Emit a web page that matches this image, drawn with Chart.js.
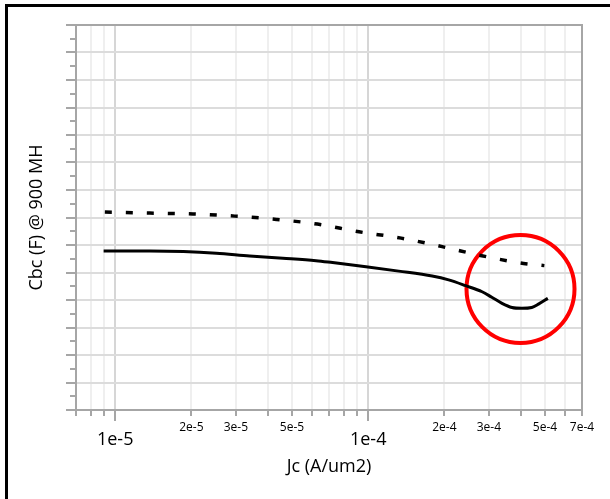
<!DOCTYPE html>
<html>
<head>
<meta charset="utf-8">
<script src="https://cdn.jsdelivr.net/npm/chart.js@4/dist/chart.umd.min.js"></script>
<style>
    html, body { margin: 0; padding: 0; background: #fff; }
    #wrap { width: 610px; height: 499px; }
</style>
</head>
<body>
<div id="wrap"><canvas id="cbcChart" width="610" height="499"></canvas></div>
<script>
// ===== Data =====
const solidJc  = [9.0e-6, 1.37e-5, 1.86e-5, 2.51e-5, 3.40e-5, 4.60e-5, 6.22e-5, 7.23e-5, 9.8e-5, 1.32e-4, 1.79e-4, 2.08e-4, 2.43e-4, 2.82e-4, 3.08e-4, 3.38e-4, 3.70e-4, 4.05e-4, 4.43e-4, 4.71e-4, 5.13e-4];
const solidCbc = [5.78, 5.78, 5.76, 5.70, 5.60, 5.52, 5.43, 5.36, 5.21, 5.05, 4.87, 4.73, 4.52, 4.30, 4.10, 3.88, 3.73, 3.70, 3.73, 3.85, 4.06];

const dashJc  = [9.1e-6, 1.37e-5, 2.03e-5, 2.97e-5, 4.34e-5, 6.3e-5, 9.2e-5, 1.35e-4, 1.96e-4, 2.81e-4, 4.11e-4, 4.97e-4];
const dashCbc = [7.20, 7.16, 7.13, 7.05, 6.93, 6.76, 6.48, 6.25, 5.94, 5.61, 5.33, 5.25];

// red highlight circle (centre in data units)
const markJc = [4.0e-4];
const markCbc = [4.40];

// x axis ticks (log) and the ones that carry a label
const xTicks = [7e-6, 8e-6, 9e-6, 1e-5, 2e-5, 3e-5, 4e-5, 5e-5, 6e-5, 7e-5, 8e-5, 9e-5,
                1e-4, 2e-4, 3e-4, 4e-4, 5e-4, 6e-4, 7e-4];
const xLabelValues = [1e-5, 2e-5, 3e-5, 5e-5, 1e-4, 2e-4, 3e-4, 5e-4, 7e-4];
const xLabelTexts  = ['1e-5', '2e-5', '3e-5', '5e-5', '1e-4', '2e-4', '3e-4', '5e-4', '7e-4'];
const xMajorValues = [1e-5, 1e-4];

// y axis: unlabelled, 14 divisions
const yMin = 0;
const yMax = 14;

const FONT = "'Open Sans', 'DejaVu Sans', sans-serif";

function sameVal(a, b) {
    return Math.abs(a - b) / b < 1e-6;
}
function isMajorX(v) {
    return xMajorValues.some(m => sameVal(v, m));
}

// Frame, plot border and minor tick marks
const decorPlugin = {
    id: 'decor',
    beforeDraw(chart) {
        const ctx = chart.ctx;
        ctx.save();
        ctx.fillStyle = '#fff';
        ctx.fillRect(0, 0, chart.width, chart.height);
        ctx.fillStyle = '#000';
        ctx.fillRect(5, 4, chart.width - 5, 3);
        ctx.fillRect(5, 4, 3, chart.height - 4);
        ctx.restore();
    },
    afterDraw(chart) {
        const ctx = chart.ctx;
        const area = chart.chartArea;
        const x = chart.scales.x;
        const y = chart.scales.y;
        ctx.save();
        ctx.strokeStyle = '#a6a6a6';
        ctx.lineWidth = 2;
        // top and right border
        ctx.beginPath();
        ctx.moveTo(area.left, area.top);
        ctx.lineTo(area.right, area.top);
        ctx.lineTo(area.right, area.bottom);
        ctx.stroke();
        // minor ticks on y (half steps)
        ctx.beginPath();
        for (let v = yMin + 0.5; v < yMax; v += 1) {
            const py = Math.round(y.getPixelForValue(v));
            ctx.moveTo(area.left - 6, py);
            ctx.lineTo(area.left, py);
        }
        // minor ticks on x
        xTicks.forEach(v => {
            if (isMajorX(v)) return;
            const px = Math.round(x.getPixelForValue(v));
            ctx.moveTo(px, area.bottom);
            ctx.lineTo(px, area.bottom + 6);
        });
        ctx.stroke();
        ctx.restore();
    }
};

const ctx = document.getElementById('cbcChart').getContext('2d');

new Chart(ctx, {
    type: 'line',
    data: {
        datasets: [
            {
                label: 'solid',
                data: solidJc.map((v, i) => ({ x: v, y: solidCbc[i] })),
                borderColor: '#000',
                borderWidth: 3,
                pointRadius: 0,
                tension: 0.4,
                cubicInterpolationMode: 'monotone',
                fill: false
            },
            {
                label: 'dashed',
                data: dashJc.map((v, i) => ({ x: v, y: dashCbc[i] })),
                borderColor: '#000',
                borderWidth: 3.5,
                borderDash: [7, 14],
                pointRadius: 0,
                tension: 0.4,
                cubicInterpolationMode: 'monotone',
                fill: false
            },
            {
                type: 'bubble',
                label: 'mark',
                data: markJc.map((v, i) => ({ x: v, y: markCbc[i], r: 54 })),
                borderColor: '#ff0000',
                backgroundColor: 'rgba(0,0,0,0)',
                borderWidth: 4,
                hoverRadius: 0
            }
        ]
    },
    options: {
        responsive: false,
        animation: false,
        events: [],
        layout: {
            autoPadding: false,
            padding: { left: 0, top: 25, right: 28, bottom: 0 }
        },
        plugins: {
            legend: { display: false },
            tooltip: { enabled: false }
        },
        scales: {
            x: {
                type: 'logarithmic',
                min: 7e-6,
                max: 7e-4,
                afterBuildTicks: scale => {
                    scale.ticks = xTicks.map(v => ({ value: v }));
                },
                afterFit: scale => {
                    scale.height = 89;
                },
                border: { color: '#a6a6a6', width: 2 },
                grid: {
                    color: c => isMajorX(c.tick.value) ? '#d6d6d6' : '#efefef',
                    lineWidth: 2,
                    drawTicks: true,
                    tickLength: 11,
                    tickColor: c => isMajorX(c.tick.value) ? '#a6a6a6' : 'rgba(0,0,0,0)',
                    tickWidth: 2
                },
                ticks: {
                    autoSkip: false,
                    maxRotation: 0,
                    padding: 0,
                    color: '#000',
                    font: c => isMajorX(c.tick.value)
                        ? { family: FONT, size: 18, lineHeight: 38 / 18 }
                        : { family: FONT, size: 12, lineHeight: 14 / 12 },
                    callback: value => {
                        const i = xLabelValues.findIndex(m => sameVal(value, m));
                        return i >= 0 ? xLabelTexts[i] : '';
                    }
                },
                title: {
                    display: true,
                    text: 'Jc (A/um2)',
                    color: '#000',
                    font: { family: FONT, size: 18 },
                    padding: { top: 0, bottom: 21 }
                }
            },
            y: {
                type: 'linear',
                min: yMin,
                max: yMax,
                afterFit: scale => {
                    scale.width = 76;
                },
                border: { color: '#a6a6a6', width: 2 },
                grid: {
                    color: '#dcdcdc',
                    lineWidth: 2,
                    drawTicks: true,
                    tickLength: 10,
                    tickColor: '#a6a6a6',
                    tickWidth: 2
                },
                ticks: {
                    display: false,
                    stepSize: 1
                },
                title: {
                    display: true,
                    text: 'Cbc (F) @ 900 MH',
                    color: '#000',
                    font: { family: FONT, size: 18 },
                    padding: { top: 26, bottom: 0 }
                }
            }
        }
    },
    plugins: [decorPlugin]
});
</script>
</body>
</html>
